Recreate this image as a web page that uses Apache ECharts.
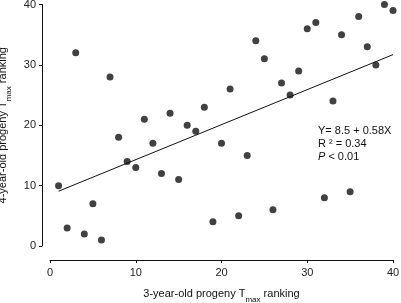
<!DOCTYPE html>
<html>
<head>
<meta charset="utf-8">
<script src="https://cdn.jsdelivr.net/npm/echarts@6/dist/echarts.min.js"></script>
<style>
  html, body { margin: 0; padding: 0; background: #fff; }
  #chart { width: 401px; height: 303px; }
</style>
</head>
<body>
<div id="chart"></div>
<script>
// 3-year-old ranking (x) vs 4-year-old ranking (y)
const rank3 = [1, 2, 3, 4, 5, 6, 7, 8, 9, 10, 11, 12, 13, 14, 15, 16, 17, 18, 19, 20,
  21, 22, 23, 24, 25, 26, 27, 28, 29, 30, 31, 32, 33, 34, 35, 36, 37, 38, 39, 40]
const rank4 = [10, 3, 32, 2, 7, 1, 28, 18, 14, 13, 21, 17, 12, 22, 11, 20, 19, 23, 4, 17,
  26, 5, 15, 34, 31, 6, 27, 25, 29, 36, 37, 8, 24, 35, 9, 38, 33, 30, 40, 39]
const fitX = [1, 40]
const fitA = 8.5
const fitB = 0.58
const axisTicks = [0, 10, 20, 30, 40]

const font = 'Liberation Sans, Arial, sans-serif'
const ink = '#111'

const chart = echarts.init(document.getElementById('chart'))

const nameRich = {
  t: { fontFamily: font, fontSize: 11, color: ink, lineHeight: 14, verticalAlign: 'middle' },
  s: { fontFamily: font, fontSize: 8, color: ink, lineHeight: 8, verticalAlign: 'bottom', padding: [0, 0, -3, 0] }
}

const axisCommon = {
  type: 'value',
  min: axisTicks[0],
  max: axisTicks[axisTicks.length - 1],
  interval: 10,
  splitLine: { show: false },
  axisLine: { show: true, onZero: false, lineStyle: { color: ink, width: 1 } },
  axisTick: { show: true, inside: false, length: 3, lineStyle: { color: ink, width: 1 } },
  axisLabel: { fontFamily: font, fontSize: 11, color: '#222' },
  nameLocation: 'middle',
  nameTextStyle: { rich: nameRich }
}

const option = {
  animation: false,
  backgroundColor: '#fff',
  grid: { left: 50, right: 8, top: 4.5, bottom: 57, containLabel: false, outerBoundsMode: 'none' },
  xAxis: Object.assign({}, axisCommon, {
    offset: 14,
    axisLabel: Object.assign({}, axisCommon.axisLabel, { margin: 7 }),
    name: '{t|3-year-old progeny T}{s|max}{t| ranking}',
    nameGap: 27
  }),
  yAxis: Object.assign({}, axisCommon, {
    offset: 8,
    axisLabel: Object.assign({}, axisCommon.axisLabel, { margin: 6 }),
    name: '{t|4-year-old progeny T}{s|max}{t| ranking}',
    nameGap: 25
  }),
  series: [
    {
      type: 'scatter',
      symbol: 'circle',
      symbolSize: 7,
      itemStyle: { color: ink },
      data: rank3.map((x, i) => [x, rank4[i]]),
      z: 3
    },
    {
      type: 'line',
      showSymbol: false,
      symbol: 'none',
      lineStyle: { color: ink, width: 1 },
      data: fitX.map((x) => [x, fitA + fitB * x]),
      z: 2
    }
  ],
  graphic: [
    {
      type: 'text',
      left: 318,
      top: 125,
      style: {
        text: '{a|Y= 8.5 + 0.58X}\n{a|R ² = 0.34}\n{i|P}{a| < 0.01}',
        rich: {
          a: { fontFamily: font, fontSize: 11, fill: ink, lineHeight: 13 },
          i: { fontFamily: font, fontSize: 11, fill: ink, lineHeight: 13, fontStyle: 'italic' }
        }
      }
    }
  ]
}

chart.setOption(option)
</script>
</body>
</html>
